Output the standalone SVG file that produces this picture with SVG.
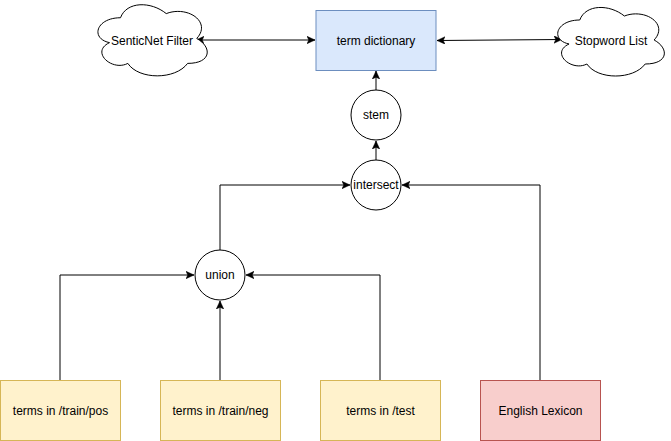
<svg xmlns="http://www.w3.org/2000/svg" width="671" height="441" viewBox="0 0 671 441">
<style>
text{font-family:"Liberation Sans",Arial,sans-serif;font-size:12px;fill:#000;text-anchor:middle;dominant-baseline:central}
.blue{fill:#dae8fc;stroke:#6c8ebf;stroke-width:1}
.yellow{fill:#fff2cc;stroke:#d6b656;stroke-width:1}
.red{fill:#f8cecc;stroke:#b85450;stroke-width:1}
.op{fill:#fff;stroke:#000;stroke-width:1}
.cloud{fill:#fff;stroke:#000;stroke-width:1}
.edge{fill:none;stroke:#000;stroke-width:1}
</style>
<defs>
<marker id="arr" markerUnits="userSpaceOnUse" viewBox="0 0 8 8" refX="8" refY="4" markerWidth="8" markerHeight="8" orient="auto-start-reverse">
<path d="M8,4 L0,0.3 L1.8,4 L0,7.7 Z" fill="#000" stroke="#000" stroke-width="0.5"/>
</marker>
</defs>
<rect width="671" height="441" fill="#fff"/>
<g id="connectors">
<path class="edge" d="M196,40 L315,40" marker-start="url(#arr)" marker-end="url(#arr)"/>
<path class="edge" d="M437,40.5 L562,39.5" marker-start="url(#arr)" marker-end="url(#arr)"/>
<path class="edge" d="M376,90 L376,71" marker-end="url(#arr)"/>
<path class="edge" d="M376,160 L376,141" marker-end="url(#arr)"/>
<path class="edge" d="M220,250 L220,185 L350,185" marker-end="url(#arr)"/>
<path class="edge" d="M540,380 L540,185 L402,185" marker-end="url(#arr)"/>
<path class="edge" d="M60,380 L60,275 L194,275" marker-end="url(#arr)"/>
<path class="edge" d="M220,380 L220,301" marker-end="url(#arr)"/>
<path class="edge" d="M380,380 L380,275 L246,275" marker-end="url(#arr)"/>
</g>
<g id="senticnet">
<path class="cloud" transform="translate(90,-3) scale(122,83)" vector-effect="non-scaling-stroke" d="M0.25,0.25 C0.05,0.25 0,0.5 0.16,0.55 C0,0.66 0.18,0.9 0.31,0.8 C0.4,1 0.7,1 0.8,0.8 C1,0.8 1,0.6 0.875,0.5 C1,0.3 0.8,0.1 0.625,0.2 C0.5,0.05 0.3,0.05 0.25,0.25 Z"/>
<text x="152" y="41">SenticNet Filter</text>
</g>
<g id="stopword">
<path class="cloud" transform="translate(550,0) scale(119,80)" vector-effect="non-scaling-stroke" d="M0.25,0.25 C0.05,0.25 0,0.5 0.16,0.55 C0,0.66 0.18,0.9 0.31,0.8 C0.4,1 0.7,1 0.8,0.8 C1,0.8 1,0.6 0.875,0.5 C1,0.3 0.8,0.1 0.625,0.2 C0.5,0.05 0.3,0.05 0.25,0.25 Z"/>
<text x="611" y="41">Stopword List</text>
</g>
<g id="term-dictionary">
<rect class="blue" x="316" y="10.5" width="120" height="60"/>
<text x="376" y="41">term dictionary</text>
</g>
<g id="stem">
<circle class="op" cx="376" cy="115" r="25"/>
<text x="376" y="115">stem</text>
</g>
<g id="intersect">
<circle class="op" cx="376" cy="185" r="25"/>
<text x="376" y="185">intersect</text>
</g>
<g id="union">
<circle class="op" cx="220" cy="275" r="25"/>
<text x="220" y="275">union</text>
</g>
<g id="train-pos">
<rect class="yellow" x="0.5" y="380.5" width="120" height="60"/>
<text x="60.5" y="411">terms in /train/pos</text>
</g>
<g id="train-neg">
<rect class="yellow" x="160.5" y="380.5" width="120" height="60"/>
<text x="220.5" y="411">terms in /train/neg</text>
</g>
<g id="test">
<rect class="yellow" x="320.5" y="380.5" width="120" height="60"/>
<text x="380.5" y="411">terms in /test</text>
</g>
<g id="english-lexicon">
<rect class="red" x="480.5" y="380.5" width="120" height="60"/>
<text x="540.5" y="411">English Lexicon</text>
</g>
</svg>
